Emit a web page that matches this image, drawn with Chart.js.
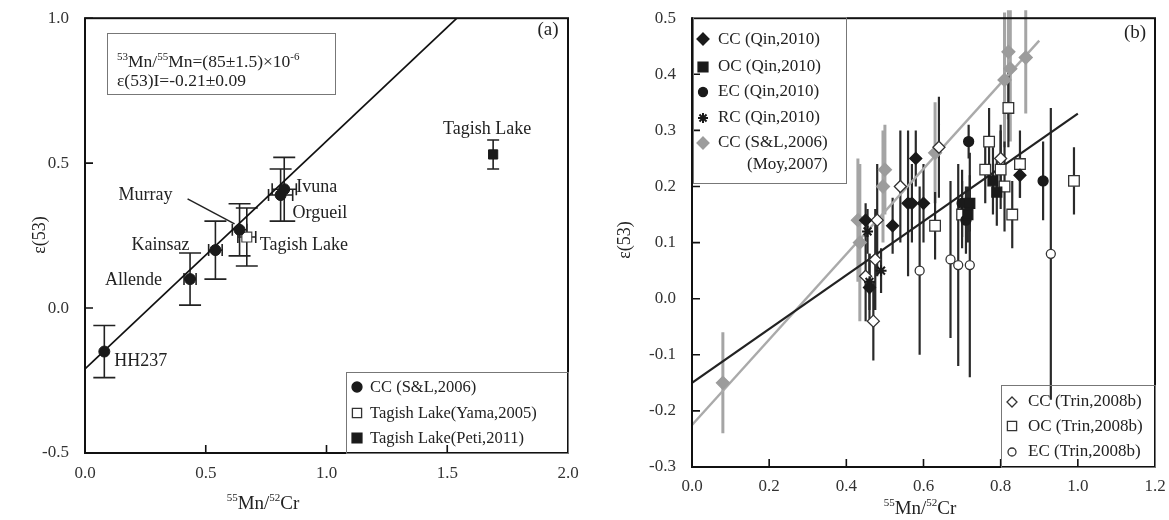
<!DOCTYPE html>
<html>
<head>
<meta charset="utf-8">
<script src="https://cdn.jsdelivr.net/npm/chart.js@4.4.1/dist/chart.umd.min.js"></script>
<style>
body{margin:0;background:#fff;width:1169px;height:520px;overflow:hidden;position:relative}
canvas{position:absolute;top:0}
#panelA{left:0}
#panelB{left:600px}
</style>
</head>
<body>
<canvas id="panelA" width="600" height="520"></canvas>
<canvas id="panelB" width="569" height="520"></canvas>
<script>
// ---- (a) carbonaceous chondrites, whole rock ----
var ccNames = ['HH237', 'Allende', 'Kainsaz', 'Murray', 'Orgueil', 'Ivuna'];
var ccX = [0.08, 0.435, 0.54, 0.64, 0.81, 0.825];
var ccY = [-0.15, 0.10, 0.20, 0.27, 0.39, 0.41];
var ccErrY = [0.09, 0.09, 0.10, 0.09, 0.09, 0.11];
var ccErrX = [0, 0.025, 0.028, 0.03, 0.05, 0.05];
var yamaX = [0.67];
var yamaY = [0.245];
var yamaErrY = [0.10];
var yamaErrX = [0.037];
var petiX = [1.69];
var petiY = [0.53];
var petiErrY = [0.05];
var isoAX = [0, 1.54];
var isoAY = [-0.21, 1.0];

// ---- (b) literature compilation ----
var ccQinX = [0.45, 0.46, 0.52, 0.56, 0.57, 0.58, 0.60, 0.85];
var ccQinY = [0.14, 0.02, 0.13, 0.17, 0.17, 0.25, 0.17, 0.22];
var ccQinErr = [0.03, 0.06, 0.05, 0.13, 0.07, 0.05, 0.07, 0.04];
var ocQinX = [0.715, 0.72, 0.78, 0.79];
var ocQinY = [0.15, 0.17, 0.21, 0.19];
var ocQinErr = [0.05, 0.05, 0.06, 0.06];
var ecQinX = [0.70, 0.71, 0.717, 0.91];
var ecQinY = [0.17, 0.14, 0.28, 0.21];
var ecQinErr = [0.06, 0.06, 0.03, 0.07];
var rcQinX = [0.49, 0.46, 0.455];
var rcQinY = [0.05, 0.03, 0.12];
var rcQinErr = [0.04, 0.05, 0.04];
var ccSLX = [0.08, 0.43, 0.435, 0.495, 0.50, 0.63, 0.81, 0.82, 0.825, 0.865];
var ccSLY = [-0.15, 0.14, 0.10, 0.20, 0.23, 0.26, 0.39, 0.44, 0.41, 0.43];
var ccSLErr = [0.09, 0.11, 0.14, 0.10, 0.08, 0.09, 0.12, 0.12, 0.13, 0.10];
var ccTrinX = [0.45, 0.47, 0.475, 0.48, 0.54, 0.64, 0.80];
var ccTrinY = [0.04, -0.04, 0.07, 0.14, 0.20, 0.27, 0.25];
var ccTrinErr = [0.08, 0.07, 0.09, 0.10, 0.10, 0.09, 0.06];
var ocTrinX = [0.63, 0.70, 0.76, 0.77, 0.80, 0.81, 0.82, 0.83, 0.85, 0.99];
var ocTrinY = [0.13, 0.15, 0.23, 0.28, 0.23, 0.20, 0.34, 0.15, 0.24, 0.21];
var ocTrinErr = [0.06, 0.06, 0.06, 0.06, 0.07, 0.08, 0.07, 0.06, 0.06, 0.06];
var ecTrinX = [0.59, 0.67, 0.69, 0.72, 0.93];
var ecTrinY = [0.05, 0.07, 0.06, 0.06, 0.08];
var ecTrinErr = [0.15, 0.14, 0.18, 0.20, 0.26];
var fitBlackX = [0, 1.0];
var fitBlackY = [-0.15, 0.33];
var fitGrayX = [0, 0.90];
var fitGrayY = [-0.225, 0.46];

var SERIF = '"Liberation Serif", "Times New Roman", serif';
var INK = '#1a1a1a';
var GRAY = '#9c9c9c';

Chart.defaults.font.family = SERIF;
Chart.defaults.color = '#222';
Chart.defaults.animation = false;

function pts(xs, ys) {
  return xs.map(function (x, i) { return {x: x, y: ys[i]}; });
}

// same shapes as chart.js point styles, for legends
function marker(ctx, style, x, y, r, fill, stroke) {
  ctx.save();
  ctx.beginPath();
  if (style == 'circle') ctx.arc(x, y, r, 0, Math.PI * 2);
  else if (style == 'rect') { var s = r * Math.SQRT1_2; ctx.rect(x - s, y - s, 2 * s, 2 * s); }
  else if (style == 'rectRot') { ctx.moveTo(x, y - r); ctx.lineTo(x + r, y); ctx.lineTo(x, y + r); ctx.lineTo(x - r, y); ctx.closePath(); }
  else if (style == 'star') {
    for (var k = 0; k < 4; k++) {
      var a = k * Math.PI / 4;
      ctx.moveTo(x - Math.cos(a) * r, y - Math.sin(a) * r);
      ctx.lineTo(x + Math.cos(a) * r, y + Math.sin(a) * r);
    }
  }
  if (style != 'star') { ctx.fillStyle = fill; ctx.fill(); }
  ctx.strokeStyle = stroke;
  ctx.lineWidth = style == 'star' ? 2 : 1.3;
  ctx.stroke();
  ctx.restore();
}

// text with superscripts: parts = [[text, isSup], ...]
function supText(ctx, parts, x, y, size, align) {
  var big = size + 'px ' + SERIF;
  var small = Math.round(size * 0.6) + 'px ' + SERIF;
  var w = 0;
  parts.forEach(function (p) { ctx.font = p[1] ? small : big; w += ctx.measureText(p[0]).width; });
  var cx = align == 'center' ? x - w / 2 : x;
  ctx.textAlign = 'left';
  ctx.textBaseline = 'alphabetic';
  parts.forEach(function (p) {
    ctx.font = p[1] ? small : big;
    ctx.fillText(p[0], cx, p[1] ? y - size * 0.42 : y);
    cx += ctx.measureText(p[0]).width;
  });
}

function rotText(ctx, txt, x, y, size) {
  ctx.save();
  ctx.translate(x, y);
  ctx.rotate(-Math.PI / 2);
  ctx.font = size + 'px ' + SERIF;
  ctx.textAlign = 'center';
  ctx.textBaseline = 'middle';
  ctx.fillText(txt, 0, 0);
  ctx.restore();
}

// vertical (and optional horizontal) error bars, drawn under the markers
var errorBars = {
  id: 'errorBars',
  beforeDatasetsDraw: function (chart) {
    var ctx = chart.ctx, xs = chart.scales.x, ys = chart.scales.y, a = chart.chartArea;
    ctx.save();
    ctx.beginPath();
    ctx.rect(a.left, a.top - 8, a.right - a.left, a.bottom - a.top + 8);
    ctx.clip();
    var sets = chart.data.datasets;
    for (var d = sets.length - 1; d >= 0; d--) {
      var ds = sets[d];
      if (!ds.errY) continue;
      ctx.strokeStyle = ds.errColor;
      ctx.lineWidth = ds.errWidth;
      ctx.beginPath();
      ds.data.forEach(function (p, i) {
        var px = xs.getPixelForValue(p.x), py = ys.getPixelForValue(p.y);
        var top = ys.getPixelForValue(p.y + ds.errY[i]), bot = ys.getPixelForValue(p.y - ds.errY[i]);
        ctx.moveTo(px, top); ctx.lineTo(px, bot);
        if (ds.capY) {
          ctx.moveTo(px - ds.capY, top); ctx.lineTo(px + ds.capY, top);
          ctx.moveTo(px - ds.capY, bot); ctx.lineTo(px + ds.capY, bot);
        }
        if (ds.errX && ds.errX[i]) {
          var l = xs.getPixelForValue(p.x - ds.errX[i]), r = xs.getPixelForValue(p.x + ds.errX[i]);
          ctx.moveTo(l, py); ctx.lineTo(r, py);
          ctx.moveTo(l, py - 6); ctx.lineTo(l, py + 6);
          ctx.moveTo(r, py - 6); ctx.lineTo(r, py + 6);
        }
      });
      ctx.stroke();
    }
    ctx.restore();
  }
};

// box round the plot with inward ticks
var frame = {
  id: 'frame',
  afterDatasetsDraw: function (chart) {
    var ctx = chart.ctx, a = chart.chartArea, sx = chart.scales.x, sy = chart.scales.y;
    ctx.save();
    ctx.strokeStyle = '#111';
    ctx.lineWidth = 2;
    ctx.strokeRect(a.left, a.top, a.right - a.left, a.bottom - a.top);
    ctx.lineWidth = 1.6;
    ctx.beginPath();
    sx.ticks.forEach(function (t) {
      var px = sx.getPixelForValue(t.value);
      ctx.moveTo(px, a.bottom); ctx.lineTo(px, a.bottom - 8);
    });
    sy.ticks.forEach(function (t) {
      var py = sy.getPixelForValue(t.value);
      ctx.moveTo(a.left, py); ctx.lineTo(a.left + 8, py);
    });
    ctx.stroke();
    ctx.restore();
  }
};

var ccLabelPos = [[10, 10, 'left'], [-28, 1, 'right'], [-26, -5, 'right'], [-67, -35, 'right'], [12, 18, 'left'], [12, -2, 'left']];

var decorA = {
  id: 'decorA',
  afterDraw: function (chart) {
    var ctx = chart.ctx, xs = chart.scales.x, ys = chart.scales.y;
    ctx.save();
    ctx.fillStyle = '#222';
    ctx.strokeStyle = '#222';
    ctx.font = '18px ' + SERIF;
    ctx.textBaseline = 'middle';
    ccNames.forEach(function (n, i) {
      var o = ccLabelPos[i];
      ctx.textAlign = o[2];
      ctx.fillText(n, xs.getPixelForValue(ccX[i]) + o[0], ys.getPixelForValue(ccY[i]) + o[1]);
    });
    // Murray pointer
    var mx = xs.getPixelForValue(ccX[3]), my = ys.getPixelForValue(ccY[3]);
    ctx.lineWidth = 1.5;
    ctx.beginPath();
    ctx.moveTo(mx - 52, my - 31); ctx.lineTo(mx - 5, my - 6);
    ctx.stroke();
    ctx.textAlign = 'left';
    ctx.fillText('Tagish Lake', xs.getPixelForValue(yamaX[0]) + 13, ys.getPixelForValue(yamaY[0]) + 8);
    ctx.textAlign = 'center';
    ctx.fillText('Tagish Lake', xs.getPixelForValue(petiX[0]) - 6, ys.getPixelForValue(petiY[0]) - 25);

    // isochron box
    ctx.strokeStyle = '#777';
    ctx.lineWidth = 1;
    ctx.strokeRect(107.5, 33.5, 228, 61);
    supText(ctx, [['53', 1], ['Mn/', 0], ['55', 1], ['Mn=(85\u00b11.5)\u00d710', 0], ['-6', 1]], 117, 67, 17.5);
    ctx.font = '17.5px ' + SERIF;
    ctx.textBaseline = 'alphabetic';
    ctx.fillText('\u03b5(53)I=-0.21\u00b10.09', 117, 86);

    // legend
    ctx.strokeRect(346.5, 372.5, 222, 81);
    marker(ctx, 'circle', 357, 387, 5, INK, INK);
    marker(ctx, 'rect', 357, 413, 6.5, '#fff', '#333');
    marker(ctx, 'rect', 357, 438, 7, INK, INK);
    ctx.font = '16.5px ' + SERIF;
    ctx.textAlign = 'left';
    ctx.textBaseline = 'middle';
    ctx.fillText('CC (S&L,2006)', 370, 388);
    ctx.fillText('Tagish Lake(Yama,2005)', 370, 414);
    ctx.fillText('Tagish Lake(Peti,2011)', 370, 439);

    ctx.font = '19px ' + SERIF;
    ctx.textAlign = 'center';
    ctx.fillText('(a)', 548, 30);
    rotText(ctx, '\u03b5(53)', 40, 235, 18);
    supText(ctx, [['55', 1], ['Mn/', 0], ['52', 1], ['Cr', 0]], 263, 509, 19, 'center');
    ctx.restore();
  }
};

var decorB = {
  id: 'decorB',
  afterDraw: function (chart) {
    var ctx = chart.ctx;
    ctx.save();
    ctx.fillStyle = '#222';
    ctx.strokeStyle = '#777';
    ctx.lineWidth = 1;
    // upper legend
    ctx.strokeRect(93.5, 17.5, 153, 166);
    marker(ctx, 'rectRot', 103, 39, 6, INK, INK);
    marker(ctx, 'rect', 103, 67, 7, INK, INK);
    marker(ctx, 'circle', 103, 92, 4.5, INK, INK);
    marker(ctx, 'star', 103, 118, 5, INK, INK);
    marker(ctx, 'rectRot', 103, 143, 6, GRAY, GRAY);
    ctx.font = '17px ' + SERIF;
    ctx.textAlign = 'left';
    ctx.textBaseline = 'middle';
    ctx.fillText('CC (Qin,2010)', 118, 40);
    ctx.fillText('OC (Qin,2010)', 118, 67);
    ctx.fillText('EC (Qin,2010)', 118, 92);
    ctx.fillText('RC (Qin,2010)', 118, 118);
    ctx.fillText('CC (S&L,2006)', 118, 143);
    ctx.fillText('(Moy,2007)', 147, 165);
    // lower legend
    ctx.strokeRect(401.5, 385.5, 154, 82);
    marker(ctx, 'rectRot', 412, 402, 5, '#fff', '#333');
    marker(ctx, 'rect', 412, 426, 6.5, '#fff', '#333');
    marker(ctx, 'circle', 412, 452, 4, '#fff', '#333');
    ctx.fillText('CC (Trin,2008b)', 428, 402);
    ctx.fillText('OC (Trin,2008b)', 428, 427);
    ctx.fillText('EC (Trin,2008b)', 428, 452);

    ctx.font = '19px ' + SERIF;
    ctx.textAlign = 'center';
    ctx.fillText('(b)', 535, 33);
    rotText(ctx, '\u03b5(53)', 25, 240, 18);
    supText(ctx, [['55', 1], ['Mn/', 0], ['52', 1], ['Cr', 0]], 320, 514, 19, 'center');
    ctx.restore();
  }
};

function axis(min, max, step, size, pad, fit) {
  return {
    type: 'linear', min: min, max: max,
    grid: {display: false},
    border: {display: false},
    ticks: {
      stepSize: step, padding: pad, autoSkip: false, maxRotation: 0,
      font: {size: size}, color: '#333',
      callback: function (v) { return Number(v).toFixed(1); }
    },
    afterFit: fit
  };
}

new Chart('panelA', {
  type: 'scatter',
  data: {
    datasets: [{
      data: pts(ccX, ccY), pointStyle: 'circle', pointRadius: 5.5,
      backgroundColor: INK, borderColor: INK,
      errY: ccErrY, errX: ccErrX, capY: 11, errColor: '#222', errWidth: 1.6
    }, {
      data: pts(yamaX, yamaY), pointStyle: 'rect', pointRadius: 7,
      backgroundColor: '#fff', borderColor: '#444', borderWidth: 1.2,
      errY: yamaErrY, errX: yamaErrX, capY: 11, errColor: '#222', errWidth: 1.6
    }, {
      data: pts(petiX, petiY), pointStyle: 'rect', pointRadius: 6.5,
      backgroundColor: INK, borderColor: INK,
      errY: petiErrY, capY: 6, errColor: '#222', errWidth: 1.6
    }, {
      data: pts(isoAX, isoAY), showLine: true, pointRadius: 0,
      borderColor: '#111', borderWidth: 1.8
    }]
  },
  options: {
    responsive: false,
    layout: {padding: {top: 14, right: 32, left: 0, bottom: 0}},
    plugins: {legend: {display: false}, tooltip: {enabled: false}},
    scales: {
      x: axis(0, 2, 0.5, 17, 2, function (s) { s.height = 67; }),
      y: axis(-0.5, 1, 0.5, 17, 8, function (s) { s.width = 85; })
    }
  },
  plugins: [errorBars, frame, decorA]
});

function setB(xs, ys, err, style, r, fill, stroke, barColor, barWidth) {
  return {
    data: pts(xs, ys), pointStyle: style, pointRadius: r,
    backgroundColor: fill, borderColor: stroke, borderWidth: style == 'star' ? 2 : 1.3,
    errY: err, errColor: barColor, errWidth: barWidth
  };
}

new Chart('panelB', {
  type: 'scatter',
  data: {
    datasets: [
      setB(ccQinX, ccQinY, ccQinErr, 'rectRot', 6, INK, INK, '#2a2a2a', 2.2),
      setB(ocQinX, ocQinY, ocQinErr, 'rect', 7, INK, INK, '#2a2a2a', 2.2),
      setB(ecQinX, ecQinY, ecQinErr, 'circle', 5, INK, INK, '#2a2a2a', 2.2),
      setB(rcQinX, rcQinY, rcQinErr, 'star', 5.5, INK, INK, '#2a2a2a', 2.2),
      setB(ccTrinX, ccTrinY, ccTrinErr, 'rectRot', 6, '#fff', '#333', '#2a2a2a', 2.2),
      setB(ocTrinX, ocTrinY, ocTrinErr, 'rect', 7.5, '#fff', '#333', '#2a2a2a', 2.2),
      setB(ecTrinX, ecTrinY, ecTrinErr, 'circle', 4.5, '#fff', '#333', '#2a2a2a', 2.2),
      setB(ccSLX, ccSLY, ccSLErr, 'rectRot', 6.5, GRAY, GRAY, '#a5a5a5', 3),
      {data: pts(fitBlackX, fitBlackY), showLine: true, pointRadius: 0, borderColor: '#222', borderWidth: 2.2},
      {data: pts(fitGrayX, fitGrayY), showLine: true, pointRadius: 0, borderColor: '#aaa', borderWidth: 2.4}
    ]
  },
  options: {
    responsive: false,
    layout: {padding: {top: 17, right: 14, left: 0, bottom: 0}},
    plugins: {legend: {display: false}, tooltip: {enabled: false}},
    scales: {
      x: axis(0, 1.2, 0.2, 17, 1, function (s) { s.height = 53; }),
      y: axis(-0.3, 0.5, 0.1, 17, 8, function (s) { s.width = 92; })
    }
  },
  plugins: [errorBars, frame, decorB]
});
</script>
</body>
</html>
